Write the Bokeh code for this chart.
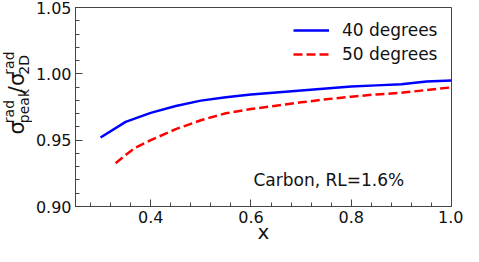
import math
from bokeh.plotting import figure
from bokeh.layouts import row
from bokeh.models import (Range1d, SingleIntervalTicker, PrintfTickFormatter,
                          Label, Legend, LegendItem, ColumnDataSource)
from bokeh.core.properties import value
from bokeh.embed import file_html
from bokeh.resources import INLINE

# ---- data ----
x40 = [0.30, 0.35, 0.40, 0.45, 0.50, 0.55, 0.60, 0.65, 0.70, 0.75, 0.80, 0.85, 0.90, 0.95, 1.00]
y40 = [0.9520, 0.9638, 0.9706, 0.9757, 0.9798, 0.9823, 0.9845, 0.9860, 0.9875, 0.9890,
       0.9905, 0.9913, 0.9921, 0.9942, 0.9950]

x50 = [0.33, 0.35, 0.37, 0.40, 0.45, 0.50, 0.55, 0.60, 0.65, 0.70, 0.75, 0.80, 0.85, 0.90,
       0.95, 1.00]
y50 = [0.9326, 0.9388, 0.9445, 0.9500, 0.9583, 0.9650, 0.9703, 0.9735, 0.9760, 0.9785,
       0.9808, 0.9828, 0.9845, 0.9857, 0.9878, 0.9898]

series_labels = ["40 degrees", "50 degrees"]
annotation_text = "Carbon, RL=1.6%"
x_axis_label = "x"
y_label_parts = ["σ", "rad", "peak", "/", "σ", "rad", "2D"]
x_limits = (0.25, 1.0)
y_limits = (0.90, 1.05)

FONT = "DejaVu Sans"
AXC = "#444444"
TXT = "#111111"

W_LABEL = 32
TOTAL_W, TOTAL_H = 463, 246
MAIN_W = TOTAL_W - W_LABEL
B_LEFT, B_RIGHT, B_TOP, B_BOTTOM = 40, 12, 7, 40

# ---- narrow figure holding the composite y-axis title ----
lab = figure(width=W_LABEL, height=TOTAL_H, output_backend="svg", toolbar_location=None,
             x_range=Range1d(0, W_LABEL), y_range=Range1d(0, TOTAL_H),
             x_axis_type=None, y_axis_type=None,
             min_border=0, min_border_left=0, min_border_right=0,
             min_border_top=0, min_border_bottom=0)
lab.outline_line_color = None
lab.xgrid.visible = False
lab.ygrid.visible = False
lab.background_fill_color = "white"
lab.border_fill_color = "white"

# perpendicular baseline offsets (px from left) and start positions (px from top)
px = [16, 8, 23, 16, 16, 8, 23]
py_top = [157, 143, 143, 106, 97, 83, 83]
sizes = ["21px", "14px", "14px", "21px", "21px", "14px", "14px"]
src = ColumnDataSource(dict(x=px, y=[TOTAL_H - v for v in py_top],
                            text=y_label_parts, size=sizes))
lab.text(x="x", y="y", text="text", source=src, angle=math.pi / 2,
         text_font=value(FONT), text_font_size="size", text_color=TXT,
         text_align="left", text_baseline="alphabetic")

# ---- main chart ----
p = figure(width=MAIN_W, height=TOTAL_H, output_backend="svg",
           toolbar_location=None,
           x_range=Range1d(*x_limits), y_range=Range1d(*y_limits),
           min_border_left=B_LEFT, min_border_right=B_RIGHT, min_border_top=B_TOP,
           min_border_bottom=B_BOTTOM)
p.xgrid.visible = False
p.ygrid.visible = False
p.outline_line_color = AXC
p.outline_line_width = 1
p.background_fill_color = "white"
p.border_fill_color = "white"

p.xaxis.ticker = SingleIntervalTicker(interval=0.2, num_minor_ticks=5)
p.yaxis.ticker = SingleIntervalTicker(interval=0.05, num_minor_ticks=5)
p.xaxis.formatter = PrintfTickFormatter(format="%.1f")
p.yaxis.formatter = PrintfTickFormatter(format="%.2f")

for ax in (p.xaxis, p.yaxis):
    ax.axis_line_color = AXC
    ax.major_tick_line_color = AXC
    ax.minor_tick_line_color = AXC
    ax.major_tick_in = 7
    ax.major_tick_out = 0
    ax.minor_tick_in = 4
    ax.minor_tick_out = 0
    ax.major_label_text_font = FONT
    ax.major_label_text_font_size = "16px"
    ax.major_label_text_color = TXT
    ax.major_label_standoff = 4

p.xaxis.axis_label = x_axis_label
p.xaxis.axis_label_text_font = FONT
p.xaxis.axis_label_text_font_size = "20px"
p.xaxis.axis_label_text_font_style = "normal"
p.xaxis.axis_label_text_color = TXT
p.xaxis.axis_label_standoff = -6

r1 = p.line(x40, y40, line_color="#0000ff", line_width=2.5)
r2 = p.line(x50, y50, line_color="#ff0000", line_width=2.5, line_dash="9 4")

legend = Legend(items=[LegendItem(label=series_labels[0], renderers=[r1]),
                       LegendItem(label=series_labels[1], renderers=[r2])],
                location="top_right", margin=13, padding=0, spacing=4,
                glyph_width=36, glyph_height=20, label_height=20, label_width=96,
                label_standoff=13, label_text_font=FONT, label_text_font_size="17px",
                label_text_color=TXT,
                border_line_alpha=0, background_fill_alpha=0)
p.add_layout(legend)

p.add_layout(Label(x=0.605, y=0.92, text=annotation_text, text_font=FONT,
                   text_font_size="17px", text_color=TXT,
                   text_baseline="alphabetic", text_align="left"))

layout = row(lab, p, spacing=0)
open("out.html", "w").write(file_html(layout, INLINE))
